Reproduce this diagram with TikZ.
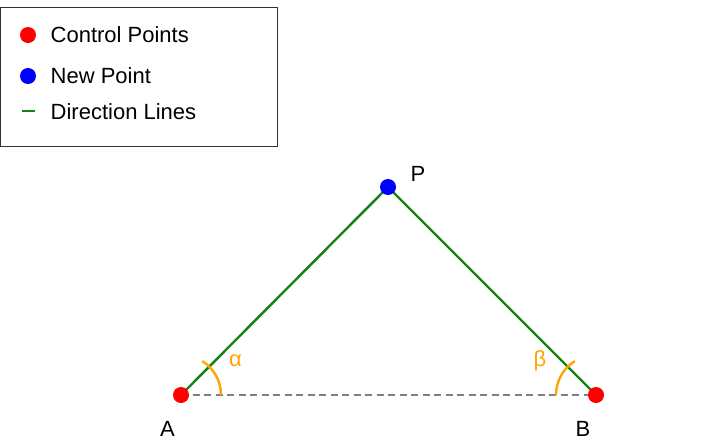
\documentclass[tikz,border=0pt]{standalone}
\usepackage{fontspec}
\setmainfont{Liberation Sans}
\definecolor{dirgreen}{RGB}{20,130,20}
\definecolor{angorange}{RGB}{255,165,0}
\begin{document}
\begin{tikzpicture}[x=1pt,y=-1pt,
    dot/.style={circle,inner sep=0pt,minimum size=16pt},
    txt/.style={font=\fontsize{22}{26}\selectfont,inner sep=0pt}]
      \useasboundingbox (0,0) rectangle (720,440);
      % legend
      \draw[black!80,line width=1.3pt] (0.8,7.5) rectangle (277.5,146.5);
      \draw
        (28,35) node[dot,fill=red] (lred){}
        (28,76) node[dot,fill=blue] (lblue){}
        (21.5,111) coordinate (lg1)
        (35,111) coordinate (lg2)
        (50.5,42.7) node[txt,anchor=base west] (tred){Control Points}
        (50.5,83.3) node[txt,anchor=base west] (tblue){New Point}
        (50.5,119.3) node[txt,anchor=base west] (tgreen){Direction Lines};
      \draw[dirgreen,line width=2.4pt] (lg1) -- (lg2);
      % triangle
      \draw
        (181,395) coordinate (A)
        (596,395) coordinate (B)
        (388,187) coordinate (P)
        (160,436) node[txt,anchor=base west] (labA){A}
        (575.5,436) node[txt,anchor=base west] (labB){B}
        (410.5,181.7) node[txt,anchor=base west] (labP){P}
        (235.5,366.7) node[txt,anchor=base,text=angorange] (alpha){α}
        (540,366.7) node[txt,anchor=base,text=angorange] (beta){β};
      \begin{scope}[-]
        \draw[gray,line width=1.8pt,dash pattern=on 7pt off 4.5pt] (A) to (B);
        \draw[dirgreen,line width=2.4pt] (A) to (P);
        \draw[dirgreen,line width=2.4pt] (P) to (B);
        \draw[angorange,line width=2.4pt] ([shift={(0:40)}]A) arc[start angle=0,end angle=-58,radius=40];
        \draw[angorange,line width=2.4pt] ([shift={(180:40)}]B) arc[start angle=180,end angle=238,radius=40];
      \end{scope}
      \node[dot,fill=red] (dA) at (A) {};
      \node[dot,fill=red] (dB) at (B) {};
      \node[dot,fill=blue] (dP) at (P) {};
    \end{tikzpicture}
\end{document}
